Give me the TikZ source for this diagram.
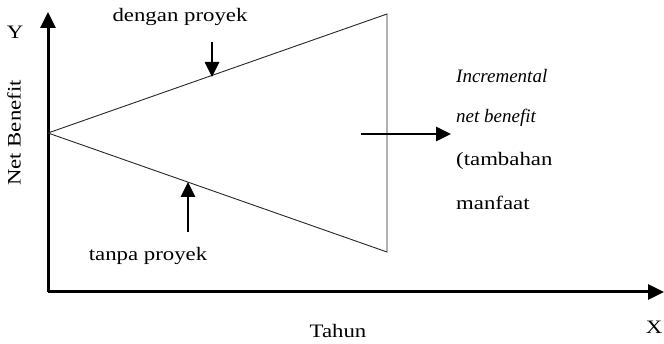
\documentclass[tikz,border=0pt]{standalone}
\usepackage{fontspec}
\setmainfont{Liberation Serif}[FakeStretch=1.2]
\newfontfamily\incfont{Liberation Serif}
\usetikzlibrary{arrows.meta}
\begin{document}
\begin{tikzpicture}[x=1pt,y=-1pt,
  lbl/.style={font=\fontsize{19}{22}\selectfont, inner sep=0pt},
  axis/.style={line width=3pt, -{Triangle[length=16pt,width=15pt]}},
  pointer/.style={line width=2.6pt, -{Triangle[length=15pt,width=14pt]}},
  thin/.style={line width=0.9pt, black!85}]
\useasboundingbox (0,0) rectangle (664,344);
\coordinate (O) at (48,292);
\coordinate (ytip) at (48,12);
\coordinate (xtip) at (664,292);
\coordinate (v) at (48,133);
\coordinate (a) at (387,14);
\coordinate (b) at (387,252);
\draw[axis] (O) -- (ytip);
\draw[axis] (O) -- (xtip);
\draw[thin] (v) -- (a) -- (b) -- cycle;
\node[lbl] (dengan) at (180,17) {dengan proyek};
\node[lbl] (tanpa) at (148,256) {tanpa proyek};
\coordinate (d1) at (212,42);
\coordinate (d2) at (212,77);
\draw[pointer] (d1) -- (d2);
\coordinate (t1) at (188,232);
\coordinate (t2) at (188,182);
\draw[pointer] (t1) -- (t2);
\coordinate (h1) at (361,134);
\coordinate (h2) at (451,134);
\draw[pointer] (h1) -- (h2);
\node[lbl, anchor=west] (inc1) at (456,76) {\incfont\itshape Incremental};
\node[lbl, anchor=west] (inc2) at (456,118) {\incfont\itshape net benefit};
\node[lbl, anchor=west] (inc3) at (456,161) {(tambahan};
\node[lbl, anchor=west] (inc4) at (456,203) {manfaat};
\node[lbl] (ylab) at (15,32) {Y};
\node[lbl, rotate=90] (nb) at (14,133) {Net Benefit};
\node[lbl] (tahun) at (338,331) {Tahun};
\node[lbl] (xlab) at (654,327) {X};
\end{tikzpicture}
\end{document}
